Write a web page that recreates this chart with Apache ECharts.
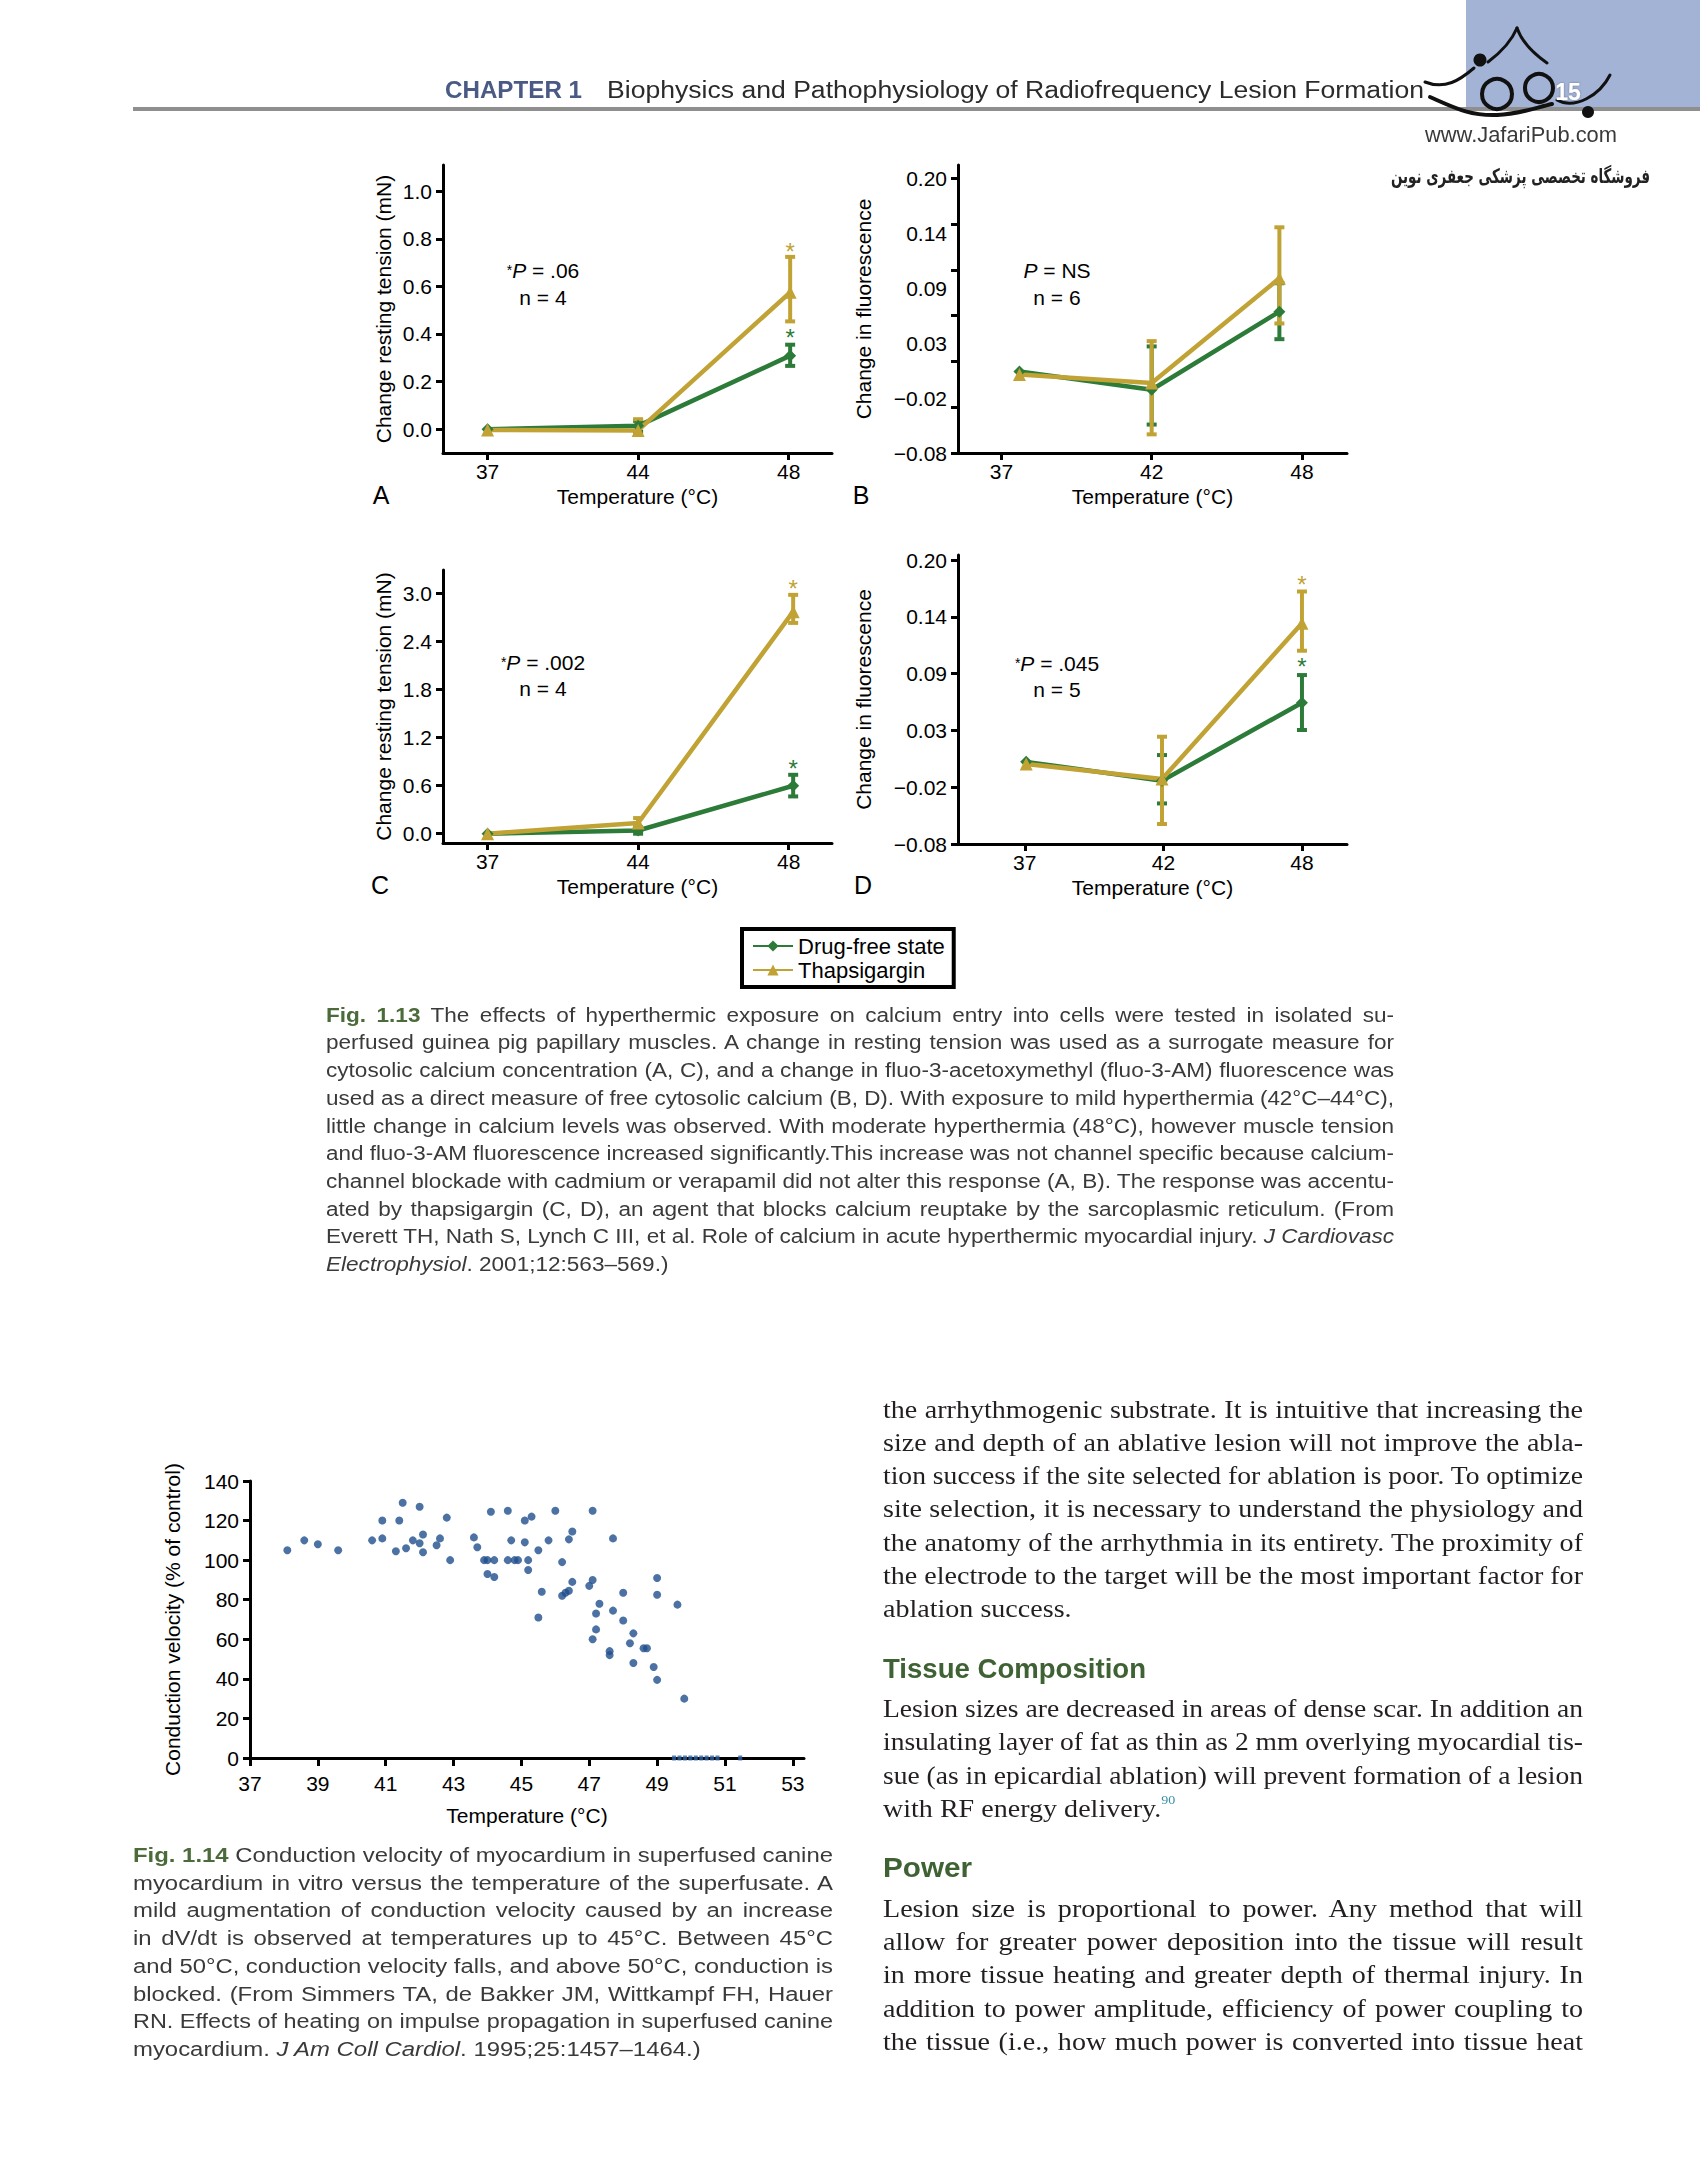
<!DOCTYPE html>
<html><head><meta charset="utf-8">
<script src="https://cdn.jsdelivr.net/npm/echarts@6/dist/echarts.min.js"></script>
<style>
html,body{margin:0;padding:0;background:#fff;width:1700px;height:2175px;overflow:hidden;}
#chart{position:absolute;left:0;top:0;width:1700px;height:2175px;}
#text{position:absolute;left:0;top:0;width:1700px;height:2175px;pointer-events:none;}
.ln{position:absolute;white-space:nowrap;line-height:1;transform-origin:0 0;}
.cap{font-family:"Liberation Sans",Arial,sans-serif;color:#3a3a3a;}
.body{font-family:"Liberation Serif","Times New Roman",serif;color:#231f20;}
.hd{font-family:"Liberation Sans Narrow","Liberation Sans",sans-serif;font-weight:bold;color:#3f6234;}
.fig{font-weight:bold;color:#4b6b3a;}
.hdr{font-family:"Liberation Sans Narrow","Liberation Sans",sans-serif;color:#2b2b2b;}
.chap{font-weight:bold;color:#4a5a85;}
sup{font-size:13px;color:#3a8fa8;vertical-align:top;position:relative;top:-3px;}
</style></head><body>
<div id="chart"></div>
<div id="text"></div>
<script>
// ---------------- DATA ----------------
// Fig 1.13 temperature tick labels (ordinal axes)
const tempLabelsA = ['37', '44', '48'];
const tempLabelsB = ['37', '42', '48'];
const tempLabelsC = ['37', '44', '48'];
const tempLabelsD = ['37', '42', '48'];
const ordinalTicks = [0, 1, 2];
const xPointsA = [0, 1, 2.01];
const xPointsB = [0.12, 1.0, 1.85];
const xPointsC = [0, 1, 2.03];
const xPointsD = [0.01, 0.99, 2.0];
// y tick labels
const tensionTicksA = [0, 0.2, 0.4, 0.6, 0.8, 1.0];
const tensionTicksC = [0, 0.6, 1.2, 1.8, 2.4, 3.0];
const fluorLabelValues = [-0.08, -0.024, 0.032, 0.088, 0.144, 0.20];
const fluorTickValuesB = [-0.08, -0.0333, 0.0133, 0.06, 0.1067, 0.1533, 0.20];
const fluorTickValuesD = [-0.08, -0.024, 0.032, 0.088, 0.144, 0.20];

// Panel A  (change resting tension, mN)
const drugFreeA = [0.0, 0.014, 0.309];
const thapsA = [-0.003, -0.005, 0.575];
const drugFreeErrA = [null, [-0.01, 0.035], [0.266, 0.355]];
const thapsErrA = [null, [-0.024, 0.042], [0.453, 0.724]];
const drugFreeStarA = [null, null, 0.407];
const thapsStarA = [null, null, 0.766];
// Panel B  (change in fluorescence)
const drugFreeB = [0.003, -0.0155, 0.064];
const thapsB = [0.0, -0.0087, 0.098];
const drugFreeErrB = [null, [-0.051, 0.0286], [0.036, 0.093]];
const thapsErrB = [null, [-0.061, 0.034], [0.052, 0.150]];
// Panel C  (change in resting tension, mN)
const drugFreeC = [0.0, 0.04, 0.598];
const thapsC = [0.0, 0.133, 2.77];
const drugFreeErrC = [null, [0.0, 0.08], [0.465, 0.735]];
const thapsErrC = [null, [0.05, 0.195], [2.63, 2.98]];
const drugFreeStarC = [null, null, 0.87];
const thapsStarC = [null, null, 3.12];
// Panel D  (change in fluorescence)
const drugFreeD = [0.001, -0.0176, 0.0593];
const thapsD = [-0.001, -0.016, 0.1376];
const drugFreeErrD = [null, [-0.04, 0.0077], [0.0324, 0.0866]];
const thapsErrD = [null, [-0.0603, 0.0258], [0.1106, 0.169]];
const drugFreeStarD = [null, null, 0.0998];
const thapsStarD = [null, null, 0.181];

// Fig 1.14 scatter: temperature (°C) vs conduction velocity (% of control)
const scatterTemp = [38.1, 38.6, 39.0, 39.6, 40.6, 40.9, 40.9, 41.3, 41.4, 41.5,
  41.6, 41.8, 42.0, 42.0, 42.1, 42.1, 42.5, 42.6, 42.8, 42.9,
  43.6, 43.7, 43.9, 44.1, 44.0, 44.2, 44.0, 44.2, 44.6, 44.6,
  44.7, 44.8, 44.9, 45.1, 45.1, 45.2, 45.2, 45.3, 45.5, 45.5,
  45.6, 45.8, 46.0, 46.2, 46.2, 46.3, 46.4, 46.4, 46.5, 46.5,
  47.0, 47.1, 47.1, 47.1, 47.2, 47.2, 47.3, 47.6, 47.6, 47.7,
  47.7, 48.0, 48.0, 48.2, 48.3, 48.3, 48.6, 48.7, 48.9, 49.0,
  49.0, 49.0, 49.6, 49.8];
const scatterCV = [105, 110, 108, 105, 110, 120, 111, 104.5, 120, 129,
  106, 110, 127, 108.5, 113, 104, 107.5, 111, 121.5, 100,
  111.5, 106.5, 100, 124.5, 100, 100, 93, 91.5, 125, 100,
  110, 100, 100, 109, 120, 100, 95, 122, 105, 71,
  84, 110, 125, 99, 82, 83.5, 84.5, 110.5, 114.5, 89,
  87, 90, 125, 60, 73, 65, 78, 54, 52, 74.5,
  111, 69.5, 83.5, 58, 63, 48, 55.5, 55.5, 46, 91,
  82.5, 39.5, 77.5, 30];
const blockedTemp = [49.5, 49.66, 49.82, 49.98, 50.14, 50.3, 50.46, 50.62, 50.78, 51.45];
const blockedCV = [0, 0, 0, 0, 0, 0, 0, 0, 0, 0];
const cvTicks = [0, 20, 40, 60, 80, 100, 120, 140];
const tempTicksS = [37, 39, 41, 43, 45, 47, 49, 51, 53];

// ---------------- STYLE ----------------
const GREEN = '#2d7b39', GOLD = '#c1a335', BLUE = '#1f4d8c';
const FONT = 'Liberation Sans';
const axisLineStyle = {color: '#000', width: 3};
const minusFmt = v => (Math.round(v * 100) / 100).toFixed(2).replace('-', '\u2212');

function xOrd(gi, min, max, labels, nameGap) {
  return {type: 'value', gridIndex: gi, min: min, max: max,
    axisLine: {onZero: false, lineStyle: axisLineStyle},
    axisTick: {customValues: ordinalTicks, length: 7, lineStyle: {color: '#000', width: 3}},
    axisLabel: {customValues: ordinalTicks, formatter: v => labels[Math.round(v)], fontSize: 21, color: '#000', margin: 8, fontFamily: FONT},
    splitLine: {show: false},
    name: 'Temperature (\u00B0C)', nameLocation: 'middle', nameGap: nameGap,
    nameTextStyle: {fontSize: 21, color: '#000', fontFamily: FONT}};
}
function yAx(gi, min, max, labelVals, tickVals, fmt, name, nameGap) {
  return {type: 'value', gridIndex: gi, min: min, max: max,
    axisLine: {onZero: false, lineStyle: axisLineStyle},
    axisTick: {customValues: tickVals, length: 7, lineStyle: {color: '#000', width: 3}},
    axisLabel: {customValues: labelVals, formatter: fmt, fontSize: 21, color: '#000', margin: 11, fontFamily: FONT},
    splitLine: {show: false},
    name: name, nameLocation: 'middle', nameGap: nameGap, nameRotate: 90,
    nameTextStyle: {fontSize: 21, color: '#000', fontFamily: FONT}};
}
function lineSeries(gi, name, xs, ys, color, symbol) {
  return {type: 'line', name: name, xAxisIndex: gi, yAxisIndex: gi,
    data: xs.map((x, i) => [x, ys[i]]), color: color,
    lineStyle: {width: 4.5, color: color}, itemStyle: {color: color},
    symbol: symbol, symbolSize: symbol === 'triangle' ? 13 : 12, z: 3};
}
function errSeries(gi, xs, errs, color) {
  const data = [];
  errs.forEach((e, i) => { if (e) data.push([xs[i], e[0], e[1]]); });
  return {type: 'custom', name: 'err', xAxisIndex: gi, yAxisIndex: gi, data: data, z: 3,
    renderItem: function (params, api) {
      const x = api.value(0);
      const p1 = api.coord([x, api.value(1)]), p2 = api.coord([x, api.value(2)]);
      const st = {stroke: color, lineWidth: 4};
      return {type: 'group', children: [
        {type: 'line', shape: {x1: p1[0], y1: p1[1], x2: p2[0], y2: p2[1]}, style: st},
        {type: 'line', shape: {x1: p1[0] - 5, y1: p1[1], x2: p1[0] + 5, y2: p1[1]}, style: st},
        {type: 'line', shape: {x1: p2[0] - 5, y1: p2[1], x2: p2[0] + 5, y2: p2[1]}, style: st}
      ]};
    }};
}
function starSeries(gi, xs, stars, color) {
  const data = [];
  stars.forEach((s, i) => { if (s != null) data.push([xs[i], s]); });
  return {type: 'custom', name: 'star', xAxisIndex: gi, yAxisIndex: gi, data: data, z: 4,
    renderItem: function (params, api) {
      const c = api.coord([api.value(0), api.value(1)]);
      return {type: 'text', x: c[0], y: c[1] + 5,
        style: {text: '*', fill: color, fontSize: 24, fontFamily: FONT, align: 'center', verticalAlign: 'middle'}};
    }};
}
function note(x, y, txt) {
  return {type: 'text', x: x, y: y, style: {text: txt, fill: '#000', fontSize: 21, fontFamily: FONT,
    align: 'center', verticalAlign: 'middle',
    rich: {s: {fontSize: 14, fontFamily: FONT, fill: '#000'}, i: {fontStyle: 'italic', fontSize: 21, fontFamily: FONT, fill: '#000'}}}};
}
function letter(x, y, t) {
  return {type: 'text', x: x, y: y, style: {text: t, fill: '#000', fontSize: 25, fontFamily: FONT, align: 'center', verticalAlign: 'middle'}};
}
function curve(x1, y1, c1x, c1y, c2x, c2y, x2, y2, w) {
  return {type: 'bezierCurve', shape: {x1: x1, y1: y1, cpx1: c1x, cpy1: c1y, cpx2: c2x, cpy2: c2y, x2: x2, y2: y2},
    style: {fill: null, stroke: '#111', lineWidth: w, lineCap: 'round'}};
}
function ring(cx, cy, r, w) {
  return {type: 'circle', shape: {cx: cx, cy: cy, r: r}, style: {fill: null, stroke: '#111', lineWidth: w}};
}
function dot(cx, cy, r) {
  return {type: 'circle', shape: {cx: cx, cy: cy, r: r}, style: {fill: '#111'}};
}

const DF = 'Drug-free state', TH = 'Thapsigargin';
const option = {
  animation: false,
  backgroundColor: '#fff',
  textStyle: {fontFamily: FONT},
  grid: [
    {left: 443, top: 165, width: 389, height: 288},
    {left: 958, top: 165, width: 389, height: 288},
    {left: 443, top: 570, width: 389, height: 273},
    {left: 958, top: 555, width: 389, height: 289},
    {left: 250, top: 1481, width: 554, height: 277}
  ],
  xAxis: [
    xOrd(0, -0.296, 2.288, tempLabelsA, 33),
    xOrd(1, -0.289, 2.3, tempLabelsB, 33),
    xOrd(2, -0.296, 2.288, tempLabelsC, 33),
    xOrd(3, -0.482, 2.325, tempLabelsD, 33),
    {type: 'value', gridIndex: 4, min: 37, max: 53.33,
      axisLine: {onZero: false, lineStyle: axisLineStyle},
      axisTick: {customValues: tempTicksS, length: 8, lineStyle: {color: '#000', width: 3}},
      axisLabel: {customValues: tempTicksS, fontSize: 21, color: '#000', margin: 15, fontFamily: FONT},
      splitLine: {show: false},
      name: 'Temperature (\u00B0C)', nameLocation: 'middle', nameGap: 47,
      nameTextStyle: {fontSize: 21, color: '#000', fontFamily: FONT}}
  ],
  yAxis: [
    yAx(0, -0.1, 1.11, tensionTicksA, tensionTicksA, v => v.toFixed(1), 'Change resting tension (mN)', 49),
    yAx(1, -0.08, 0.2135, fluorLabelValues, fluorTickValuesB, minusFmt, 'Change in fluorescence', 84),
    yAx(2, -0.116, 3.29, tensionTicksC, tensionTicksC, v => v.toFixed(1), 'Change resting tension (mN)', 49),
    yAx(3, -0.08, 0.205, fluorLabelValues, fluorTickValuesD, minusFmt, 'Change in fluorescence', 84),
    yAx(4, 0, 140, cvTicks, cvTicks, v => String(v), 'Conduction velocity (% of control)', 67)
  ],
  legend: {
    data: [DF, TH], orient: 'vertical', left: 742, top: 929,
    padding: [6, 9, 6, 10], itemGap: 2, itemWidth: 40, itemHeight: 14,
    borderColor: '#000', borderWidth: 4, borderRadius: 0, backgroundColor: '#fff',
    textStyle: {fontSize: 22, color: '#000', fontFamily: FONT}
  },
  series: [
    lineSeries(0, DF, xPointsA, drugFreeA, GREEN, 'diamond'),
    errSeries(0, xPointsA, drugFreeErrA, GREEN),
    lineSeries(0, TH, xPointsA, thapsA, GOLD, 'triangle'),
    errSeries(0, xPointsA, thapsErrA, GOLD),
    starSeries(0, xPointsA, drugFreeStarA, GREEN),
    starSeries(0, xPointsA, thapsStarA, GOLD),

    lineSeries(1, DF, xPointsB, drugFreeB, GREEN, 'diamond'),
    errSeries(1, xPointsB, drugFreeErrB, GREEN),
    lineSeries(1, TH, xPointsB, thapsB, GOLD, 'triangle'),
    errSeries(1, xPointsB, thapsErrB, GOLD),

    lineSeries(2, DF, xPointsC, drugFreeC, GREEN, 'diamond'),
    errSeries(2, xPointsC, drugFreeErrC, GREEN),
    lineSeries(2, TH, xPointsC, thapsC, GOLD, 'triangle'),
    errSeries(2, xPointsC, thapsErrC, GOLD),
    starSeries(2, xPointsC, drugFreeStarC, GREEN),
    starSeries(2, xPointsC, thapsStarC, GOLD),

    lineSeries(3, DF, xPointsD, drugFreeD, GREEN, 'diamond'),
    errSeries(3, xPointsD, drugFreeErrD, GREEN),
    lineSeries(3, TH, xPointsD, thapsD, GOLD, 'triangle'),
    errSeries(3, xPointsD, thapsErrD, GOLD),
    starSeries(3, xPointsD, drugFreeStarD, GREEN),
    starSeries(3, xPointsD, thapsStarD, GOLD),

    {type: 'scatter', name: 'Conduction velocity', xAxisIndex: 4, yAxisIndex: 4,
      data: scatterTemp.map((t, i) => [t, scatterCV[i]]),
      symbol: 'circle', symbolSize: 8, itemStyle: {color: BLUE}},
    {type: 'scatter', name: 'Blocked', xAxisIndex: 4, yAxisIndex: 4,
      data: blockedTemp.map((t, i) => [t, blockedCV[i]]),
      symbol: 'rect', symbolSize: [4, 5], itemStyle: {color: '#2f62a0'}, z: 5}
  ],
  graphic: [
    // page header decoration
    {type: 'rect', shape: {x: 1466, y: 0, width: 234, height: 110}, style: {fill: '#a3b3d5'}, z: -10},
    {type: 'rect', shape: {x: 133, y: 107, width: 1567, height: 4}, style: {fill: '#8f8f8f'}, z: -9},
    // logo (approximate calligraphic strokes)
    curve(1488, 62, 1500, 53, 1512, 40, 1517, 28, 3),
    curve(1517, 28, 1522, 42, 1534, 54, 1547, 63, 3),
    dot(1480, 60, 6.5),
    ring(1497, 94, 15, 4),
    ring(1539, 88, 14, 4),
    curve(1425, 82, 1445, 90, 1460, 80, 1474, 68, 3),
    curve(1430, 97, 1455, 108, 1470, 116, 1497, 115, 4),
    curve(1497, 115, 1520, 114, 1535, 108, 1552, 104, 4),
    curve(1557, 100, 1575, 110, 1600, 95, 1610, 75, 3),
    dot(1588, 112, 6),
    {type: 'text', x: 1568, y: 92, style: {text: '15', fill: '#fff', fontSize: 23, fontWeight: 'bold', fontFamily: FONT, align: 'center', verticalAlign: 'middle', textShadowColor: 'rgba(0,0,0,0.35)', textShadowBlur: 2}},
    // panel letters
    letter(381, 495, 'A'), letter(861, 495, 'B'), letter(380, 885, 'C'), letter(863, 885, 'D'),
    // statistics notes
    note(543, 270, '{s|*}{i|P} = .06'), note(543, 297, 'n = 4'),
    note(1057, 270, '{i|P} = NS'), note(1057, 297, 'n = 6'),
    note(543, 662, '{s|*}{i|P} = .002'), note(543, 688, 'n = 4'),
    note(1057, 663, '{s|*}{i|P} = .045'), note(1057, 689, 'n = 5')
  ]
};
const chart = echarts.init(document.getElementById('chart'), null, {renderer: 'svg', width: 1700, height: 2175});
chart.setOption(option);

// ---------------- PAGE TEXT ----------------
const box = document.getElementById('text');
function makeLine(html, cls, x, cy, fs, extra) {
  const el = document.createElement('div');
  el.className = 'ln ' + cls;
  el.innerHTML = html;
  el.style.fontSize = fs + 'px';
  el.style.left = x + 'px';
  el.style.top = (cy - 0.52 * fs) + 'px';
  if (extra) Object.assign(el.style, extra);
  box.appendChild(el);
  return el;
}
function fitOne(html, cls, x, cy, W, fs, extra) {
  const el = makeLine(html, cls, x, cy, fs, extra);
  const w = el.getBoundingClientRect().width;
  el.style.transform = 'scaleX(' + (W / w) + ')';
}
// a justified block: common horizontal scale, then word spacing fills each line
function block(lines, cls, x, W, fs) {
  const els = lines.map(l => makeLine(l[0], cls, x, l[1], fs));
  const ws = els.map(e => e.getBoundingClientRect().width);
  const ratios = lines.map((l, i) => W / ws[i]).filter((r, i) => lines[i][2]).sort((a, b) => a - b);
  const s = ratios[Math.floor(ratios.length * 0.35)] || 1;
  els.forEach((el, i) => {
    const w = ws[i];
    if (lines[i][2]) {
      if (w * s <= W) {
        const n = (el.textContent.match(/ /g) || []).length;
        if (n > 0) el.style.wordSpacing = ((W / s - w) / n) + 'px';
        el.style.transform = 'scaleX(' + s + ')';
      } else {
        el.style.transform = 'scaleX(' + (W / w) + ')';
      }
    } else {
      el.style.transform = 'scaleX(' + s + ')';
    }
  });
}
// header
fitOne('CHAPTER 1', 'hdr chap', 445, 91, 137, 23);
fitOne('Biophysics and Pathophysiology of Radiofrequency Lesion Formation', 'hdr', 607, 91, 817, 23);
fitOne('www.JafariPub.com', 'hdr', 1425, 135, 192, 22, {color: '#3a3a3a'});
fitOne('فروشگاه تخصصی پزشکی جعفری نوین', 'hdr', 1391, 176, 259, 20, {fontFamily: '"DejaVu Sans", sans-serif', direction: 'rtl', fontWeight: 'bold', color: '#222'});

// Fig 1.13 caption
const cap13 = [
  '<span class="fig">Fig. 1.13</span> The effects of hyperthermic exposure on calcium entry into cells were tested in isolated su-',
  'perfused guinea pig papillary muscles. A change in resting tension was used as a surrogate measure for',
  'cytosolic calcium concentration (A, C), and a change in fluo-3-acetoxymethyl (fluo-3-AM) fluorescence was',
  'used as a direct measure of free cytosolic calcium (B, D). With exposure to mild hyperthermia (42°C–44°C),',
  'little change in calcium levels was observed. With moderate hyperthermia (48°C), however muscle tension',
  'and fluo-3-AM fluorescence increased significantly.This increase was not channel specific because calcium-',
  'channel blockade with cadmium or verapamil did not alter this response (A, B). The response was accentu-',
  'ated by thapsigargin (C, D), an agent that blocks calcium reuptake by the sarcoplasmic reticulum. (From',
  'Everett TH, Nath S, Lynch C III, et al. Role of calcium in acute hyperthermic myocardial injury. <i>J Cardiovasc</i>',
  '<i>Electrophysiol</i>. 2001;12:563–569.)'
];
block(cap13.map((t, i) => [t, 1015 + i * 27.73, i !== 9]), 'cap', 326, 1068, 20);

// Fig 1.14 caption
const cap14 = [
  '<span class="fig">Fig. 1.14</span> Conduction velocity of myocardium in superfused canine',
  'myocardium in vitro versus the temperature of the superfusate. A',
  'mild augmentation of conduction velocity caused by an increase',
  'in dV/dt is observed at temperatures up to 45°C. Between 45°C',
  'and 50°C, conduction velocity falls, and above 50°C, conduction is',
  'blocked. (From Simmers TA, de Bakker JM, Wittkampf FH, Hauer',
  'RN. Effects of heating on impulse propagation in superfused canine',
  'myocardium. <i>J Am Coll Cardiol</i>. 1995;25:1457–1464.)'
];
block(cap14.map((t, i) => [t, 1855.3 + i * 27.73, i !== 7]), 'cap', 133, 700, 20);

// right column body text
const bodyLines = [
  ['the arrhythmogenic substrate. It is intuitive that increasing the', 1410.2, true],
  ['size and depth of an ablative lesion will not improve the abla-', 1443.5, true],
  ['tion success if the site selected for ablation is poor. To optimize', 1476.8, true],
  ['site selection, it is necessary to understand the physiology and', 1510, true],
  ['the anatomy of the arrhythmia in its entirety. The proximity of', 1543.3, true],
  ['the electrode to the target will be the most important factor for', 1576.6, true],
  ['ablation success.', 1609.9, false],
  ['Lesion sizes are decreased in areas of dense scar. In addition an', 1709.7, true],
  ['insulating layer of fat as thin as 2 mm overlying myocardial tis-', 1743, true],
  ['sue (as in epicardial ablation) will prevent formation of a lesion', 1776.3, true],
  ['with RF energy delivery.<sup>90</sup>', 1809.5, false],
  ['Lesion size is proportional to power. Any method that will', 1909.4, true],
  ['allow for greater power deposition into the tissue will result', 1942.6, true],
  ['in more tissue heating and greater depth of thermal injury. In', 1975.9, true],
  ['addition to power amplitude, efficiency of power coupling to', 2009.2, true],
  ['the tissue (i.e., how much power is converted into tissue heat', 2042.5, true]
];
block(bodyLines, 'body', 883, 700, 26);
fitOne('Tissue Composition', 'hd', 883, 1669.5, 263, 28);
fitOne('Power', 'hd', 883, 1869, 89, 28);
</script>
</body></html>
